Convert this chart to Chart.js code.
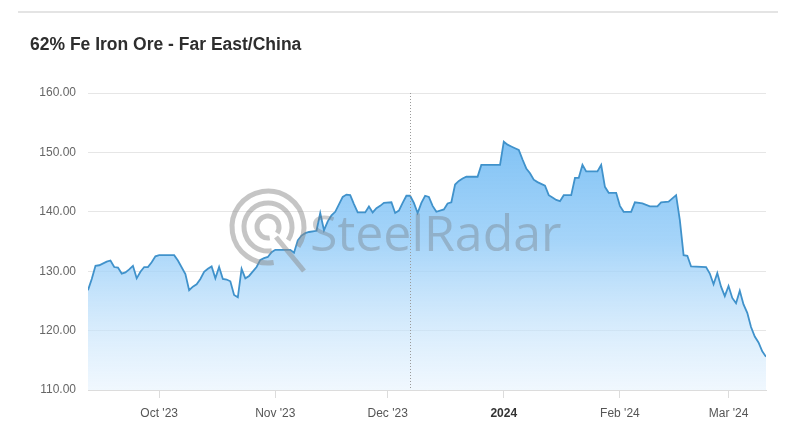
<!DOCTYPE html>
<html>
<head>
<meta charset="utf-8">
<script src="https://cdn.jsdelivr.net/npm/chart.js@4.4.1/dist/chart.umd.min.js"></script>
<style>
  html, body { margin: 0; padding: 0; background: #ffffff; }
  #wrap { width: 800px; height: 448px; position: relative; }
</style>
</head>
<body>
<div id="wrap"><canvas id="oreChart" width="800" height="448"></canvas></div>
<script>
// 62% Fe iron ore price
const dates = [
  '2023-09-12', '2023-09-13', '2023-09-14', '2023-09-15', '2023-09-17', '2023-09-18', '2023-09-19', '2023-09-20',
  '2023-09-21', '2023-09-22', '2023-09-23', '2023-09-24', '2023-09-25', '2023-09-26', '2023-09-27', '2023-09-28',
  '2023-09-29', '2023-09-30', '2023-10-01', '2023-10-05', '2023-10-06', '2023-10-08', '2023-10-09', '2023-10-10',
  '2023-10-11', '2023-10-12', '2023-10-13', '2023-10-14', '2023-10-15', '2023-10-16', '2023-10-17', '2023-10-18',
  '2023-10-19', '2023-10-20', '2023-10-21', '2023-10-22', '2023-10-23', '2023-10-24', '2023-10-25', '2023-10-27',
  '2023-10-28', '2023-10-29', '2023-10-30', '2023-10-31', '2023-11-01', '2023-11-05', '2023-11-06', '2023-11-07',
  '2023-11-08', '2023-11-09', '2023-11-10', '2023-11-12', '2023-11-13', '2023-11-14', '2023-11-15', '2023-11-16',
  '2023-11-17', '2023-11-19', '2023-11-20', '2023-11-21', '2023-11-22', '2023-11-23', '2023-11-25', '2023-11-26',
  '2023-11-27', '2023-11-28', '2023-11-29', '2023-11-30', '2023-12-02', '2023-12-03', '2023-12-04', '2023-12-05',
  '2023-12-06', '2023-12-07', '2023-12-08', '2023-12-09', '2023-12-10', '2023-12-11', '2023-12-12', '2023-12-13',
  '2023-12-14', '2023-12-16', '2023-12-17', '2023-12-18', '2023-12-19', '2023-12-20', '2023-12-21', '2023-12-22',
  '2023-12-25', '2023-12-26', '2023-12-31', '2024-01-01', '2024-01-02', '2024-01-03', '2024-01-04', '2024-01-05',
  '2024-01-06', '2024-01-07', '2024-01-08', '2024-01-09', '2024-01-10', '2024-01-12', '2024-01-13', '2024-01-14',
  '2024-01-15', '2024-01-16', '2024-01-17', '2024-01-19', '2024-01-20', '2024-01-21', '2024-01-22', '2024-01-23',
  '2024-01-26', '2024-01-27', '2024-01-28', '2024-01-29', '2024-01-31', '2024-02-01', '2024-02-02', '2024-02-04',
  '2024-02-05', '2024-02-07', '2024-02-09', '2024-02-11', '2024-02-12', '2024-02-14', '2024-02-16', '2024-02-17',
  '2024-02-18', '2024-02-19', '2024-02-20', '2024-02-24', '2024-02-25', '2024-02-26', '2024-02-27', '2024-02-28',
  '2024-02-29', '2024-03-01', '2024-03-02', '2024-03-03', '2024-03-04', '2024-03-05', '2024-03-06', '2024-03-07',
  '2024-03-08', '2024-03-09', '2024-03-10', '2024-03-11'
];
const prices = [
  126.8, 128.7, 130.9, 131.0, 131.6, 131.8, 130.7, 130.6,
  129.6, 129.8, 130.3, 130.9, 128.8, 129.9, 130.7, 130.7,
  131.5, 132.5, 132.7, 132.7, 131.8, 129.5, 126.8, 127.4,
  127.8, 128.7, 129.9, 130.4, 130.8, 128.8, 130.7, 128.7,
  128.6, 128.3, 126.0, 125.6, 130.4, 128.8, 129.2, 130.7,
  131.9, 132.2, 132.4, 133.2, 133.6, 133.6, 133.1, 135.2,
  136.0, 136.4, 136.6, 136.8, 139.8, 136.9, 138.4, 139.4,
  140.0, 142.5, 142.9, 142.8, 141.3, 139.9, 139.9, 140.9,
  139.9, 140.6, 141.0, 141.5, 141.6, 139.8, 140.2, 141.5,
  142.7, 142.7, 141.5, 139.8, 141.5, 142.7, 142.5, 141.0,
  140.0, 140.4, 141.4, 141.6, 144.6, 145.2, 145.6, 145.9,
  145.9, 147.9, 147.9, 151.8, 151.3, 151.0, 150.7, 150.4,
  148.8, 147.3, 146.5, 145.4, 145.0, 144.4, 142.8, 142.4,
  142.0, 141.8, 142.8, 142.8, 145.7, 145.7, 147.9, 146.8,
  146.8, 147.9, 144.2, 143.2, 143.2, 141.0, 140.0, 140.0,
  141.6, 141.4, 140.9, 140.9, 141.6, 141.7, 142.8, 138.6,
  132.7, 132.6, 130.8, 130.7, 129.6, 127.8, 129.7, 127.4,
  125.8, 127.5, 125.5, 124.6, 126.7, 124.4, 123.0, 120.6,
  119.0, 118.0, 116.5, 115.6
];
const tickDates = ['2023-10-01', '2023-11-01', '2023-12-01', '2024-01-01', '2024-02-01', '2024-03-01'];
const tickLabels = ["Oct '23", "Nov '23", "Dec '23", '2024', "Feb '24", "Mar '24"];
const hoverDate = '2023-12-07';

function dayNum(s) {
    const p = s.split('-').map(Number);
    return Date.UTC(p[0], p[1] - 1, p[2]) / 86400000;
}

const points = dates.map((d, i) => ({ x: dayNum(d), y: prices[i] }));
const tickDays = tickDates.map(dayNum);
const yearDay = dayNum('2024-01-01');

// separator line above the title
const frameLine = {
    id: 'frameLine',
    beforeDraw(chart) {
        const c = chart.ctx;
        c.save();
        c.strokeStyle = '#e4e4e4';
        c.lineWidth = 2;
        c.beginPath();
        c.moveTo(18, 12);
        c.lineTo(778, 12);
        c.stroke();
        c.restore();
    }
};

// dotted crosshair and SteelRadar watermark
const overlay = {
    id: 'overlay',
    afterDatasetsDraw(chart) {
        const c = chart.ctx;
        const area = chart.chartArea;
        const x = Math.round(chart.scales.x.getPixelForValue(dayNum(hoverDate))) + 0.5;
        c.save();
        c.strokeStyle = '#9a9a9a';
        c.lineWidth = 1;
        c.setLineDash([1, 2]);
        c.beginPath();
        c.moveTo(x, area.top);
        c.lineTo(x, area.bottom);
        c.stroke();
        c.setLineDash([]);

        // logo rings
        const cx = 268, cy = 227;
        c.strokeStyle = 'rgba(140, 140, 140, 0.5)';
        c.lineWidth = 5;
        [11, 24, 36].forEach(r => {
            c.beginPath();
            c.arc(cx, cy, r, Math.PI * 0.45, Math.PI * 0.2 + Math.PI * 2 - 0.05);
            c.stroke();
        });
        c.beginPath();
        c.moveTo(cx + 8, cy + 10);
        c.lineTo(cx + 36, cy + 44);
        c.stroke();

        c.fillStyle = 'rgba(115, 120, 125, 0.38)';
        c.font = '50px "Open Sans", "DejaVu Sans", sans-serif';
        c.textBaseline = 'alphabetic';
        c.fillText('SteelRadar', 310, 251);
        c.restore();
    }
};

const ctx = document.getElementById('oreChart');

new Chart(ctx, {
    type: 'line',
    data: {
        datasets: [{
            label: '62% Fe Iron Ore',
            data: points,
            borderColor: '#4092cb',
            borderWidth: 1.8,
            pointRadius: 0,
            tension: 0,
            fill: 'start',
            backgroundColor: function(context) {
                const area = context.chart.chartArea;
                if (!area) return 'rgba(120, 190, 242, 0.6)';
                const g = context.chart.ctx.createLinearGradient(0, area.top, 0, area.bottom);
                g.addColorStop(0, 'rgba(110, 185, 242, 1)');
                g.addColorStop(0.5, 'rgba(150, 205, 248, 0.85)');
                g.addColorStop(1, 'rgba(225, 240, 253, 0.5)');
                return g;
            }
        }]
    },
    options: {
        responsive: false,
        animation: false,
        layout: {
            padding: { left: 30, right: 34, top: 0, bottom: 18 }
        },
        plugins: {
            legend: { display: false },
            tooltip: { enabled: false },
            title: {
                display: true,
                text: '62% Fe Iron Ore - Far East/China',
                align: 'start',
                color: '#2e2e2e',
                font: { size: 17.5, weight: 'bold', family: '"Liberation Sans", Arial, sans-serif', lineHeight: 1.2 },
                padding: { top: 35, bottom: 37 }
            }
        },
        scales: {
            x: {
                type: 'linear',
                min: dayNum(dates[0]),
                max: dayNum(dates[dates.length - 1]),
                afterBuildTicks: function(scale) {
                    scale.ticks = tickDays.map(v => ({ value: v }));
                },
                afterFit: function(scale) {
                    scale.height = 40;
                },
                grid: {
                    drawOnChartArea: false,
                    color: '#dcdcdc',
                    tickLength: 8
                },
                border: { color: '#dcdcdc', width: 1 },
                ticks: {
                    autoSkip: false,
                    maxRotation: 0,
                    padding: 8,
                    color: function(c) { return c.tick && c.tick.value === yearDay ? '#333333' : '#555555'; },
                    font: function(c) {
                        const bold = c.tick && c.tick.value === yearDay;
                        return { size: 12, weight: bold ? 'bold' : 'normal', family: '"Liberation Sans", Arial, sans-serif' };
                    },
                    callback: function(value) {
                        const i = tickDays.indexOf(value);
                        return i >= 0 ? tickLabels[i] : '';
                    }
                }
            },
            y: {
                min: 110,
                max: 160,
                afterFit: function(scale) {
                    scale.width = 58;
                },
                grid: {
                    color: '#e6e6e6',
                    drawTicks: false
                },
                border: { display: false },
                ticks: {
                    stepSize: 10,
                    padding: 12,
                    color: '#666666',
                    font: { size: 12, family: '"Liberation Sans", Arial, sans-serif' },
                    callback: function(value) {
                        return value.toFixed(2);
                    }
                }
            }
        }
    },
    plugins: [frameLine, overlay]
});
</script>
</body>
</html>
